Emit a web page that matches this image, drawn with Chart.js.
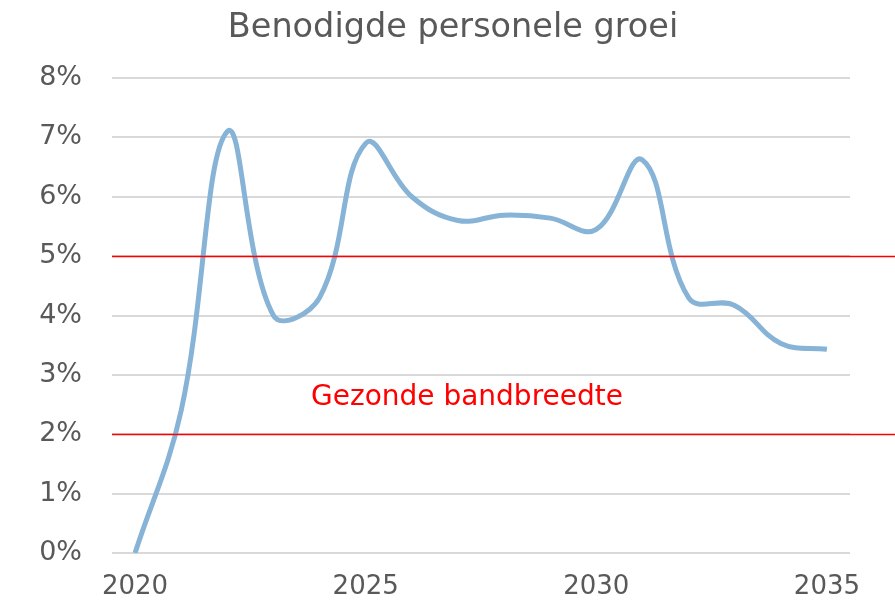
<!DOCTYPE html>
<html>
<head>
<meta charset="utf-8">
<script src="https://cdn.jsdelivr.net/npm/chart.js@4"></script>
<style>
  html, body { margin: 0; padding: 0; background: #fff; }
  #wrap { width: 895px; height: 600px; }
</style>
</head>
<body>
<div id="wrap"><canvas id="chart" width="895" height="600"></canvas></div>
<script>
// --- data ---
const years = ['2020', '2021', '2022', '2023', '2024', '2025', '2026', '2027',
               '2028', '2029', '2030', '2031', '2032', '2033', '2034', '2035'];
const growth = [0, 2.4, 7.1, 4.0, 4.3, 6.9, 6.0, 5.6,
                5.69, 5.64, 5.45, 6.62, 4.3, 4.17, 3.53, 3.43];
const bandLimits = [5, 2];
const bandLabel = 'Gezonde bandbreedte';
const bandLabelValue = 2.61;
const chartTitle = 'Benodigde personele groei';

const FONT = "'DejaVu Sans', Verdana, sans-serif";
const GREY = '#595959';

// title (centred on the whole picture, not the layout box)
const titlePlugin = {
    id: 'pageTitle',
    afterDraw(chart) {
        const ctx = chart.ctx;
        ctx.save();
        ctx.fillStyle = GREY;
        ctx.font = '33.5px ' + FONT;
        ctx.textAlign = 'center';
        ctx.textBaseline = 'middle';
        ctx.fillText(chartTitle, 453, 28);
        ctx.restore();
    }
};

// red band lines + label, drawn from the y scale
const bandPlugin = {
    id: 'band',
    afterDatasetsDraw(chart) {
        const { ctx, chartArea, scales } = chart;
        const y = scales.y;
        ctx.save();
        ctx.strokeStyle = '#ff0000';
        ctx.lineWidth = 1.5;
        bandLimits.forEach(v => {
            const py = Math.round(y.getPixelForValue(v)) + 0.5;
            ctx.beginPath();
            ctx.moveTo(chartArea.left, py);
            ctx.lineTo(chart.width, py);
            ctx.stroke();
        });
        ctx.fillStyle = '#ff0000';
        ctx.font = '28px ' + FONT;
        ctx.textAlign = 'center';
        ctx.textBaseline = 'middle';
        ctx.fillText(bandLabel, 467, y.getPixelForValue(bandLabelValue));
        ctx.restore();
    }
};

new Chart(document.getElementById('chart').getContext('2d'), {
    type: 'line',
    data: {
        labels: years,
        datasets: [{
            label: 'Groei',
            data: growth,
            borderColor: '#86b3d6',
            borderWidth: 5,
            pointRadius: 0,
            tension: 0.4,
            fill: false
        }]
    },
    options: {
        responsive: false,
        animation: false,
        layout: { padding: { left: 0, right: 45, top: 78, bottom: 0 } },
        plugins: {
            legend: { display: false },
            tooltip: { enabled: false },
            title: { display: false }
        },
        scales: {
            x: {
                offset: true,
                grid: { display: false, drawTicks: false },
                border: { display: false },
                ticks: {
                    autoSkip: false,
                    maxRotation: 0,
                    color: GREY,
                    padding: 19,
                    font: { family: FONT, size: 26 },
                    callback: function(val, i) {
                        const lab = this.getLabelForValue(val);
                        return Number(lab) % 5 === 0 ? lab : '';
                    }
                },
                afterFit: s => { s.height = 47; }
            },
            y: {
                min: 0,
                max: 8,
                grid: { color: '#d9d9d9', lineWidth: 2, drawTicks: false },
                border: { display: false },
                ticks: {
                    stepSize: 1,
                    color: GREY,
                    padding: 30,
                    font: { family: FONT, size: 27 },
                    callback: v => v + '%'
                },
                afterFit: s => { s.width = 112; }
            }
        }
    },
    plugins: [bandPlugin, titlePlugin]
});
</script>
</body>
</html>
